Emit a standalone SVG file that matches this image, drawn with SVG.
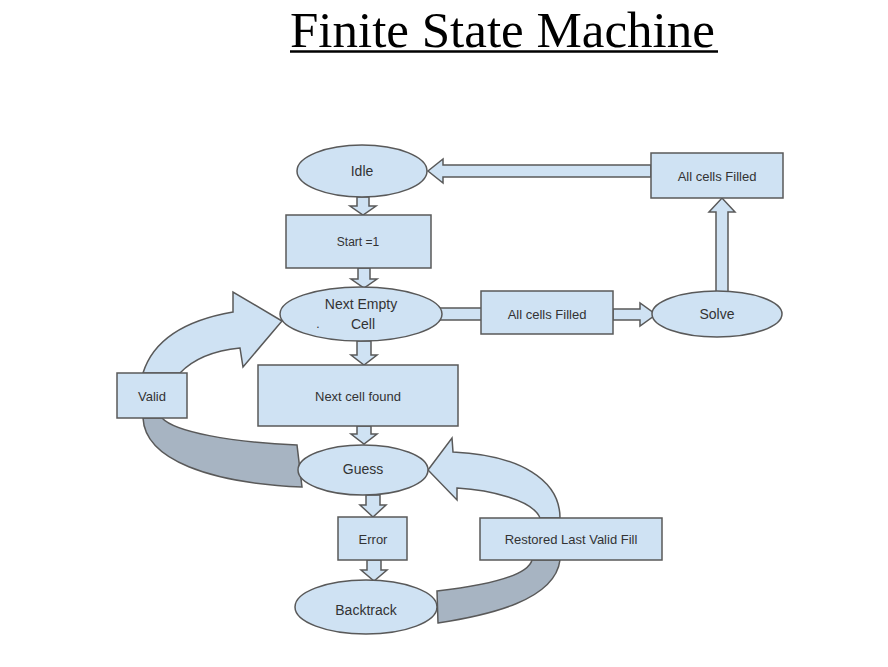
<svg xmlns="http://www.w3.org/2000/svg" width="888" height="667" viewBox="0 0 888 667">
<style>
.n{fill:#cfe2f3;stroke:#595959;stroke-width:1.5}
.g{fill:#a7b4c2;stroke:#595959;stroke-width:1.5}
.a{fill:#cfe2f3;stroke:#595959;stroke-width:1.5;stroke-linejoin:miter}
.t{font-family:"Liberation Sans",Arial,sans-serif;fill:#333;text-anchor:middle;dominant-baseline:central}
</style>
<rect width="888" height="667" fill="#fff"/>
<g id="title">
<text x="290" y="47" font-family="'Liberation Serif','Times New Roman',serif" font-size="51" fill="#000">Finite State Machine</text>
<line x1="290" y1="51.5" x2="718" y2="51.5" stroke="#000" stroke-width="2.5"/>
</g>
<g id="connectors">
<!-- curved bands -->
<path class="g" d="M143,418 C145,460 210,483 302,487 L297,445 C230,442 175,432 162,418 Z"/>
<path class="a" d="M143,373 Q158,325 233,312 L233,292 L282,321 L243,367 L240,348 Q200,352 180,373 Z"/>
<path class="g" d="M560,560 C555,600 490,615 438,623 L437,591 C490,585 528,575 532,560 Z"/>
<path class="a" d="M560,518 C560,480 520,455 453,452 L452,438 L428,470 L457,500 L457,488 C490,490 533,500 540,518 Z"/>
<!-- down arrows -->
<path class="a" d="M357,197 H369 V206 H376 L363,215 L350,206 H357 Z"/>
<path class="a" d="M358,268 H370 V279 H377 L364,288 L351,279 H358 Z"/>
<path class="a" d="M357,341 H371 V355 H377 L364,365 L351,355 H357 Z"/>
<path class="a" d="M357,426 H371 V434 H377 L364,444 L351,434 H357 Z"/>
<path class="a" d="M366,495 H380 V505 H386 L373,517 L360,505 H366 Z"/>
<path class="a" d="M367,560 H381 V570 H387 L374,581 L361,570 H367 Z"/>
<!-- horizontal / vertical -->
<rect class="a" x="438" y="308" width="44" height="12"/>
<path class="a" d="M613,309 H640 V303 L656,314.5 L640,326 V320 H613 Z"/>
<path class="a" d="M716,292 V212 H709 L722,198 L735,212 H728 V292 Z"/>
<path class="a" d="M651,165 H443 V159 L428,171 L443,183 V177 H651 Z"/>
</g>
<g id="idle"><ellipse class="n" cx="362" cy="171" rx="65" ry="26"/><text class="t" x="362" y="171" font-size="14">Idle</text></g>
<g id="start"><rect class="n" x="286" y="215" width="145" height="53"/><text class="t" x="358" y="242" font-size="12">Start =1</text></g>
<g id="nextEmpty"><ellipse class="n" cx="361" cy="314" rx="81" ry="27"/><text class="t" x="361" y="304" font-size="14">Next Empty</text><text class="t" x="363" y="324" font-size="14">Cell</text><text class="t" x="318" y="324" font-size="12">.</text></g>
<g id="allFilled1"><rect class="n" x="481" y="291" width="132" height="43"/><text class="t" x="547" y="314" font-size="13">All cells Filled</text></g>
<g id="solve"><ellipse class="n" cx="717" cy="314" rx="65" ry="23"/><text class="t" x="717" y="314" font-size="14">Solve</text></g>
<g id="allFilled2"><rect class="n" x="651" y="153" width="132" height="45"/><text class="t" x="717" y="176" font-size="13">All cells Filled</text></g>
<g id="nextFound"><rect class="n" x="258" y="365" width="200" height="61"/><text class="t" x="358" y="396" font-size="13">Next cell found</text></g>
<g id="valid"><rect class="n" x="117" y="373" width="70" height="45"/><text class="t" x="152" y="396" font-size="13">Valid</text></g>
<g id="guess"><ellipse class="n" cx="363" cy="470" rx="65" ry="25"/><text class="t" x="363" y="469" font-size="14">Guess</text></g>
<g id="error"><rect class="n" x="338" y="517" width="69" height="43"/><text class="t" x="373" y="539" font-size="13">Error</text></g>
<g id="restored"><rect class="n" x="480" y="518" width="182" height="42"/><text class="t" x="571" y="539" font-size="13">Restored Last Valid Fill</text></g>
<g id="backtrack"><ellipse class="n" cx="366" cy="607" rx="71" ry="27"/><text class="t" x="366" y="610" font-size="14">Backtrack</text></g>
</svg>
